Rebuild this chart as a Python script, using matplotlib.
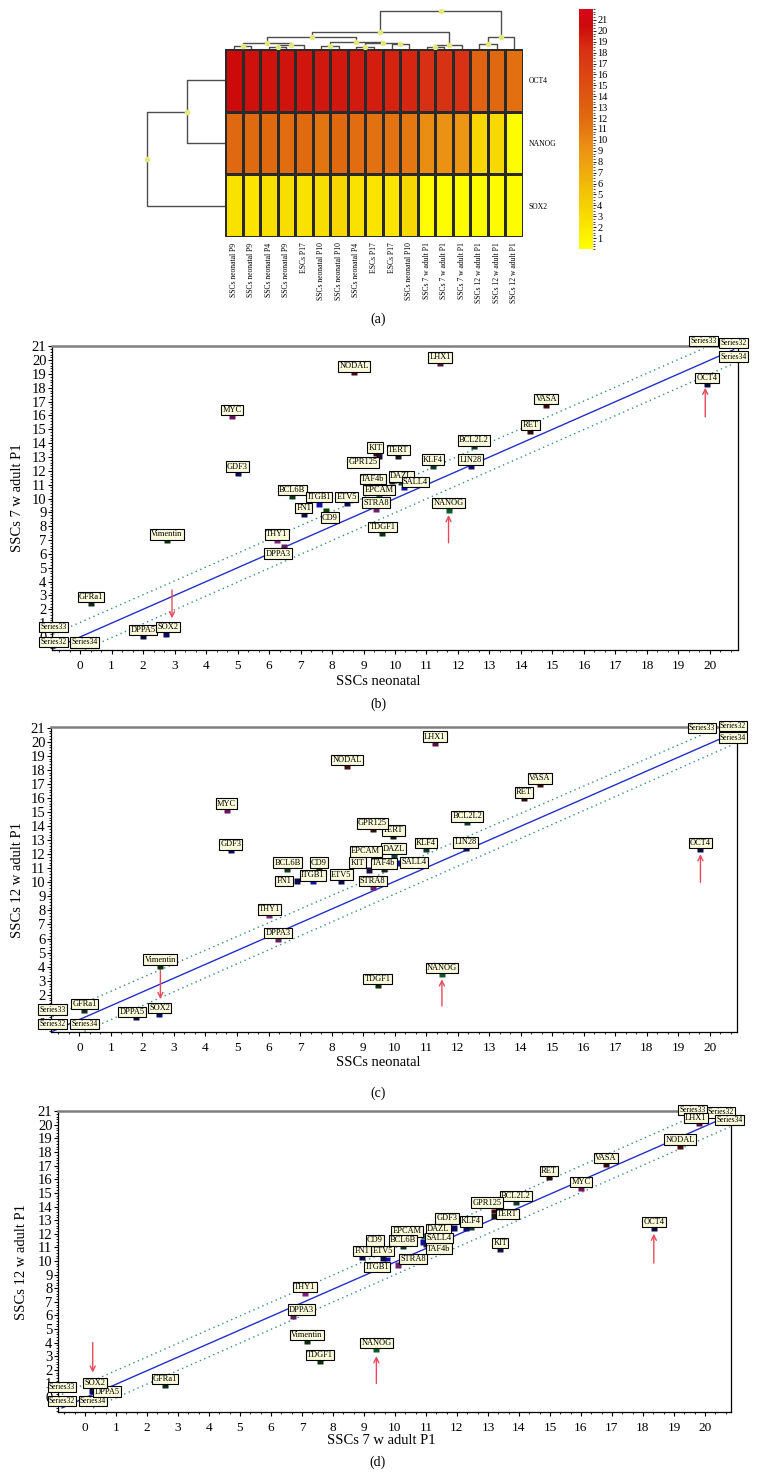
import matplotlib
matplotlib.use("Agg")
import matplotlib.pyplot as plt
import numpy as np
from matplotlib.cm import ScalarMappable
from matplotlib.colors import LinearSegmentedColormap, Normalize
from matplotlib.ticker import FixedLocator, MultipleLocator

plt.rcParams["font.family"] = ["Liberation Serif", "DejaVu Serif"]

W, H = 758, 1476

# ---------------- (a) heatmap data ----------------
samples = [
    "SSCs neonatal P9", "SSCs neonatal P9", "SSCs neonatal P4", "SSCs neonatal P9",
    "ESCs P17", "SSCs neonatal P10", "SSCs neonatal P10", "SSCs neonatal P4",
    "ESCs P17", "ESCs P17", "SSCs neonatal P10", "SSCs 7 w adult P1",
    "SSCs 7 w adult P1", "SSCs 7 w adult P1", "SSCs 12 w adult P1",
    "SSCs 12 w adult P1", "SSCs 12 w adult P1",
]
row_names = ["OCT4", "NANOG", "SOX2"]
oct4_expr = [20.5, 20.1, 20.0, 19.9, 19.8, 19.6, 19.6, 19.5, 19.4, 19.0, 18.9,
             18.3, 18.0, 18.2, 12.8, 12.2, 11.6]
nanog_expr = [12.2, 12.0, 12.1, 11.8, 12.0, 11.2, 12.1, 11.8, 11.5, 11.3, 11.0,
              9.4, 9.2, 8.8, 3.6, 3.4, 0.3]
sox2_expr = [2.6, 2.4, 2.8, 3.0, 2.6, 3.0, 3.6, 2.6, 2.4, 2.4, 3.6,
             0.2, 0.3, 0.3, 0.5, 0.4, 0.3]
cbar_ticks = list(range(1, 22))

# clustering trees: (left, right, height), leaves are column / row indices
col_tree = (
    (
        (((0, 1, 3.3), ((2, 3, 2.3), 4, 4.0), 5.7),
         ((5, 6, 3.3), ((7, 8, 2.3), (9, 10, 5.3), 6.0), 7.3), 11.7),
        (((11, 12, 2.3), 13, 4.0)),
        17.3,
    ),
    ((14, 15, 4.7), 16, 12.3),
    38.3,
)
row_tree = ((0, 1, 38), 2, 78)

# ---------------- scatter data ----------------
genes = ["NODAL", "LHX1", "MYC", "VASA", "RET", "OCT4", "BCL2L2", "KIT", "TERT",
         "GPR125", "KLF4", "LIN28", "GDF3", "TAF4b", "DAZL", "SALL4", "EPCAM",
         "BCL6B", "ITGB1", "ETV5", "FN1", "CD9", "STRA8", "NANOG", "TDGF1",
         "Vimentin", "THY1", "DPPA3", "GFRa1", "DPPA5", "SOX2"]

# (b) SSCs neonatal vs SSCs 7 w adult P1
b_x = [8.7, 11.43, 4.83, 14.8, 14.3, 19.9, 12.5, 9.5, 10.1, 9.4, 11.2, 12.4, 5.0,
       9.9, 10.2, 10.3, 9.5, 6.74, 7.6, 8.47, 7.1, 7.8, 9.4, 11.7, 9.6, 2.75,
       6.25, 6.48, 0.35, 2.0, 2.73]
b_y = [19.05, 19.7, 15.9, 16.7, 14.8, 18.2, 13.7, 13.1, 13.0, 13.2, 12.3, 12.3,
       11.8, 11.2, 11.1, 10.75, 10.1, 10.1, 9.6, 9.6, 8.8, 9.2, 9.2, 9.16, 7.43,
       6.9, 6.9, 6.6, 2.4, 0.0, 0.2]
# (c) SSCs neonatal vs SSCs 12 w adult P1
c_x = [8.5, 11.27, 4.67, 14.6, 14.1, 19.7, 12.3, 9.2, 9.95, 9.3, 11.0, 12.25, 4.8,
       9.65, 9.97, 10.1, 9.4, 6.6, 7.4, 8.3, 6.9, 7.6, 9.3, 11.5, 9.46, 2.57,
       6.03, 6.3, 0.16, 1.8, 2.54]
c_y = [18.2, 19.86, 15.1, 16.9, 15.9, 12.3, 14.2, 10.9, 13.2, 13.7, 12.3, 12.35,
       12.2, 10.85, 11.9, 11.35, 11.7, 10.9, 10.0, 10.05, 10.1, 10.9, 9.6, 3.4,
       2.64, 4.0, 7.57, 5.9, 0.86, 0.36, 0.57]
# (d) SSCs 7 w adult P1 vs SSCs 12 w adult P1
d_x = [19.2, 19.8, 16.0, 16.8, 14.97, 18.35, 13.9, 13.4, 13.2, 13.2, 12.45, 12.3,
       11.9, 11.0, 11.4, 10.9, 10.94, 10.26, 9.75, 9.6, 8.94, 9.35, 10.1, 9.4,
       7.58, 7.16, 7.1, 6.7, 2.58, 0.35, 0.23]
d_y = [18.4, 20.07, 15.3, 17.06, 16.1, 12.35, 14.26, 10.8, 13.3, 13.7, 12.4,
       12.35, 12.4, 11.2, 11.8, 11.4, 11.8, 11.0, 10.15, 10.2, 10.2, 11.0, 9.7,
       3.45, 2.57, 4.04, 7.57, 5.9, 0.8, 0.1, 0.44]

series_names = ["Series32", "Series33", "Series34"]
b_series_x = [[-0.85, 20.75], [-0.85, 19.8], [0.15, 20.75]]
b_series_y = [[-0.85, 20.75], [0.2, 20.85], [-0.9, 19.75]]
c_series_x = [[-0.85, 20.73], [-0.85, 19.75], [0.16, 20.73]]
c_series_y = [[-0.6, 20.6], [0.45, 20.5], [-0.6, 19.8]]
d_series_x = [[-0.74, 20.5], [-0.74, 19.6], [0.26, 20.8]]
d_series_y = [[-0.8, 20.4], [0.2, 20.6], [-0.8, 19.85]]

# highlighted genes (red arrows): x, arrow start y, arrow end y
b_arrow_x = [2.92, 11.7, 19.85]
b_arrow_from = [3.4, 6.8, 15.9]
b_arrow_to = [1.35, 8.8, 18.0]
c_arrow_x = [2.57, 11.5, 19.7]
c_arrow_from = [3.7, 1.2, 10.0]
c_arrow_to = [1.7, 3.1, 12.0]
d_arrow_x = [0.25, 9.4, 18.35]
d_arrow_from = [4.0, 1.0, 9.85]
d_arrow_to = [1.8, 3.0, 12.0]

x_ticks = list(range(0, 21))
y_ticks = list(range(0, 22))

# ---------------- styles ----------------
heat_cmap = LinearSegmentedColormap.from_list("heat", [
    (0.0, "#ffff00"), (3 / 22, "#f8dc00"), (9 / 22, "#ec9414"),
    (12 / 22, "#e06a10"), (18.3 / 22, "#d83014"), (20.5 / 22, "#cc0a0a"),
    (1.0, "#d8081c")])
heat_norm = Normalize(0, 22)

gene_colors = {
    "NODAL": "#4a0a0a", "LHX1": "#5a1040", "MYC": "#701060", "VASA": "#3a0a0a",
    "RET": "#2a0a0a", "OCT4": "#0a0a40", "BCL2L2": "#0a3a2a", "KIT": "#1a1040",
    "TERT": "#151515", "GPR125": "#3a0a0a", "KLF4": "#0a3a2a", "LIN28": "#0a0a70",
    "GDF3": "#0a0a60", "TAF4b": "#202020", "DAZL": "#0a4040", "SALL4": "#1010a0",
    "EPCAM": "#1a6b5a", "BCL6B": "#0a3a1a", "ITGB1": "#1010b0", "ETV5": "#0a0a50",
    "FN1": "#0a0a50", "CD9": "#0a400a", "STRA8": "#702070", "NANOG": "#0a5a2a",
    "TDGF1": "#0a300a", "Vimentin": "#0a300a", "THY1": "#802080",
    "DPPA3": "#602060", "GFRa1": "#0a2a1a", "DPPA5": "#0a0a40", "SOX2": "#0a0a60",
}
flat_marker = [(-1, -0.5), (1, -0.5), (1, 0.5), (-1, 0.5)]
label_box = dict(boxstyle="square,pad=0.15", fc="#fbfbdc", ec="black", lw=0.8)


def fig_rect(left, top, right, bottom):
    return [left / W, 1 - bottom / H, (right - left) / W, (bottom - top) / H]


def draw_tree(ax, node, horizontal_leaves=True):
    if isinstance(node, int):
        return node + 0.5, 0.0
    left, right, h = node
    xl, hl = draw_tree(ax, left, horizontal_leaves)
    xr, hr = draw_tree(ax, right, horizontal_leaves)
    pos = [xl, xl, xr, xr]
    hts = [hl, h, h, hr]
    mid = (xl + xr) / 2
    if horizontal_leaves:
        ax.plot(pos, hts, color="#4d4d4d", lw=1.0, zorder=1)
        ax.plot(mid, h, "o", color="#e4e87a", ms=4, mec="none", zorder=2)
    else:
        ax.plot(hts, pos, color="#4d4d4d", lw=1.0, zorder=1)
        ax.plot(h, mid, "o", color="#e4e87a", ms=4, mec="none", zorder=2)
    return mid, h


def scatter_panel(rect, xs, ys, xlim, ylim, series_x, series_y, arrow_x,
                  arrow_from, arrow_to, big, shift, hidden):
    ax = fig.add_axes(rect)
    for name, lx, ly in zip(series_names, series_x, series_y):
        if name == "Series32":
            ax.plot(lx, ly, color="#2430c8", lw=1.0, zorder=1)
        else:
            ax.plot(lx, ly, color="#3d8f73", lw=1.0, ls=(0, (1, 2.5)), zorder=1)
        for px, py in zip(lx, ly):
            ax.annotate(name, (px, py), xytext=(0, 7), textcoords="offset pixels",
                        ha="center", va="center", fontsize=5.5, bbox=label_box,
                        zorder=4)
    for g, x, y in zip(genes, xs, ys):
        if g in big:
            ax.plot(x, y, marker="s", ms=4.5, color=gene_colors[g], mec="none",
                    ls="none", zorder=3)
        else:
            ax.plot(x, y, marker=flat_marker, ms=4.5, color=gene_colors[g],
                    mec="none", ls="none", zorder=3)
        if g in hidden:
            continue
        dx, dy = shift.get(g, (0, 7))
        ax.annotate(g, (x, y), xytext=(dx, dy), textcoords="offset pixels",
                    ha="center", va="center", fontsize=6, bbox=label_box, zorder=5)
    for x, y0, y1 in zip(arrow_x, arrow_from, arrow_to):
        ax.annotate("", xy=(x, y1), xytext=(x, y0),
                    arrowprops=dict(arrowstyle="->", color="#e8485a", lw=1.0,
                                    mutation_scale=9, shrinkA=0, shrinkB=0),
                    zorder=2)
    ax.set_xlim(*xlim)
    ax.set_ylim(*ylim)
    ax.xaxis.set_major_locator(FixedLocator(x_ticks))
    ax.xaxis.set_minor_locator(MultipleLocator(1 / 3))
    ax.yaxis.set_major_locator(FixedLocator(y_ticks))
    ax.yaxis.set_minor_locator(MultipleLocator(0.2))
    ax.tick_params(which="major", direction="out", length=3, width=0.8)
    ax.tick_params(which="minor", direction="out", length=1.5, width=0.6)
    ax.tick_params(axis="x", labelsize=9.5, pad=4)
    ax.tick_params(axis="y", labelsize=10.5, pad=1)
    ax.spines["top"].set_color("#808080")
    ax.spines["top"].set_linewidth(1.8)
    for side in ["left", "right", "bottom"]:
        ax.spines[side].set_linewidth(0.9)
    return ax


fig = plt.figure(figsize=(W / 100, H / 100), dpi=100)

# ---------------- panel (a) ----------------
matrix = np.array([oct4_expr, nanog_expr, sox2_expr])
hm_ax = fig.add_axes(fig_rect(225, 49, 523, 237))
hm_ax.pcolormesh(np.arange(len(samples) + 1), np.arange(len(row_names) + 1), matrix,
                 cmap=heat_cmap, norm=heat_norm, edgecolors="#2a2a2a", linewidth=0.8)
hm_ax.set_xlim(0, len(samples))
hm_ax.set_ylim(len(row_names), 0)
hm_ax.set_xticks(np.arange(len(samples)) + 0.5)
hm_ax.set_xticklabels(samples, rotation=90, fontsize=5.5)
hm_ax.set_yticks(np.arange(len(row_names)) + 0.5)
hm_ax.set_yticklabels(row_names, fontsize=5.5)
hm_ax.yaxis.tick_right()
hm_ax.tick_params(length=0, pad=4)
for s in hm_ax.spines.values():
    s.set_visible(False)

cd_ax = fig.add_axes(fig_rect(225, 9, 523, 49))
draw_tree(cd_ax, col_tree, True)
cd_ax.set_xlim(0, len(samples))
cd_ax.set_ylim(0, 40)
cd_ax.axis("off")

rd_ax = fig.add_axes(fig_rect(140, 49, 225, 237))
draw_tree(rd_ax, row_tree, False)
rd_ax.set_xlim(85, 0)
rd_ax.set_ylim(len(row_names), 0)
rd_ax.axis("off")

cb_ax = fig.add_axes(fig_rect(579, 9, 593, 249))
cb = fig.colorbar(ScalarMappable(norm=heat_norm, cmap=heat_cmap), cax=cb_ax,
                  ticks=cbar_ticks)
cb.outline.set_visible(False)
cb_ax.yaxis.set_minor_locator(MultipleLocator(0.25))
cb_ax.tick_params(which="major", labelsize=7.5, length=2, width=0.6, pad=1)
cb_ax.tick_params(which="minor", length=1.2, width=0.5)

fig.text(378 / W, 1 - 319 / H, "(a)", ha="center", va="center", fontsize=10)

# ---------------- panel (b) ----------------
scatter_panel(fig_rect(52, 346, 738, 650), b_x, b_y, (-0.89, 20.89), (-0.94, 21.02),
              b_series_x, b_series_y, b_arrow_x, b_arrow_from, b_arrow_to,
              big=["ITGB1", "NANOG", "SOX2", "KIT"],
              shift={"KIT": (-4, 8), "GPR125": (-13, -8), "TAF4b": (-19, 3),
                     "CD9": (4, -8), "DPPA3": (-6, -8), "SALL4": (11, 6),
                     "SOX2": (2, 7)},
              hidden=[])
fig.text(378 / W, 1 - 681 / H, "SSCs neonatal", ha="center", va="center", fontsize=10.5)
fig.text(18 / W, 1 - 498 / H, "SSCs 7 w adult P1", ha="center", va="center",
         rotation=90, fontsize=10.5)
fig.text(378 / W, 1 - 704 / H, "(b)", ha="center", va="center", fontsize=10)

# ---------------- panel (c) ----------------
scatter_panel(fig_rect(51, 727, 737, 1032), c_x, c_y, (-0.9, 20.86), (-0.65, 21.05),
              c_series_x, c_series_y, c_arrow_x, c_arrow_from, c_arrow_to,
              big=["KIT", "SALL4", "EPCAM", "FN1"],
              shift={"EPCAM": (-10, 7), "KIT": (-12, 7), "FN1": (-13, 0),
                     "SALL4": (16, 1), "DPPA5": (-4, 6)},
              hidden=[])
fig.text(378 / W, 1 - 1062 / H, "SSCs neonatal", ha="center", va="center", fontsize=10.5)
fig.text(18 / W, 1 - 880 / H, "SSCs 12 w adult P1", ha="center", va="center",
         rotation=90, fontsize=10.5)
fig.text(378 / W, 1 - 1093 / H, "(c)", ha="center", va="center", fontsize=10)

# ---------------- panel (d) ----------------
scatter_panel(fig_rect(58, 1111, 731, 1412), d_x, d_y, (-0.87, 20.84), (-1.1, 21.02),
              d_series_x, d_series_y, d_arrow_x, d_arrow_from, d_arrow_to,
              big=["SOX2", "ETV5", "GDF3", "TERT", "EPCAM", "SALL4", "STRA8"],
              shift={"DPPA3": (9, 7), "GPR125": (-7, 8), "TERT": (13, 2),
                     "GDF3": (-7, 10), "EPCAM": (-17, 5), "SALL4": (16, 4),
                     "TAF4b": (13, -4), "STRA8": (15, 6), "ITGB1": (-10, -8),
                     "DPPA5": (11, 4), "SOX2": (3, 8), "LHX1": (-3, 6)},
              hidden=["LIN28"])
fig.text(381 / W, 1 - 1441 / H, "SSCs 7 w adult P1", ha="center", va="center",
         fontsize=10.5)
fig.text(22 / W, 1 - 1262 / H, "SSCs 12 w adult P1", ha="center", va="center",
         rotation=90, fontsize=10.5)
fig.text(378 / W, 1 - 1462 / H, "(d)", ha="center", va="center", fontsize=10)

fig.savefig("out.png", dpi=100)
